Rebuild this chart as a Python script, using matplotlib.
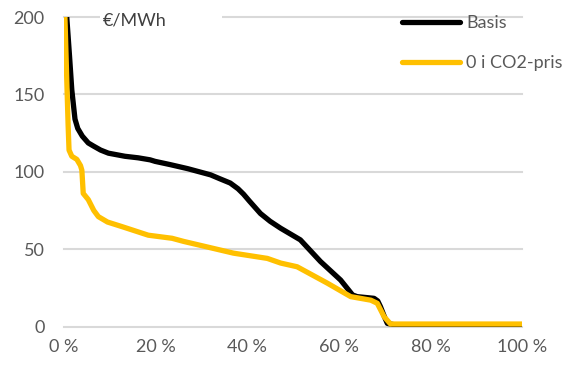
import matplotlib
matplotlib.use("Agg")
import matplotlib.pyplot as plt
from matplotlib.patches import Rectangle
from matplotlib.ticker import FuncFormatter

# ── Data (duration curves, share of hours in %, price in €/MWh) ───────────────
basis_x = [0, 0.6, 1.2, 1.7, 2.4, 3.0, 4.0, 5.3, 6.5, 8.0, 9.7, 13.3, 16.2, 18.8,
           19.9, 23.2, 27.0, 32.0, 34.0, 36.3, 38.0, 39.2, 40.5, 42.9, 45.0,
           47.3, 51.6, 56.0, 60.4, 63.0, 64.0, 67.7, 68.5, 69.1, 70.0, 70.6,
           72.0, 100]
basis_y = [230, 200, 175, 153, 134, 128, 123, 118.6, 116.5, 114, 112, 110, 109, 107.7,
           106.7, 104.6, 102, 98, 95.5, 92.7, 89, 85.5, 81, 73, 68,
           63.5, 56, 42, 30, 20.4, 19.3, 18.2, 16.5, 12.8, 6, 2, 1.2, 1.2]

co2_x = [0, 0.2, 0.6, 0.9, 1.1, 1.7, 2.8, 3.6, 3.9, 4.2, 5.3, 6.5, 7.5, 9.5,
         12.6, 18.4, 23.6, 26.1, 37.0, 44.4, 47.3, 50.9, 57.5, 62.6, 67.0,
         68.4, 69.9, 71.3, 100]
co2_y = [230, 200, 160, 130, 114, 110, 108, 104, 101, 86, 82, 75, 71, 67.5,
         64.6, 59, 57, 55, 47.4, 44, 41, 38.6, 28, 19.3, 17,
         15, 6.3, 1.6, 1.6]

series_names = ["Basis", "0 i CO2-pris"]
y_ticks = [0, 50, 100, 150, 200]
x_ticks = [0, 20, 40, 60, 80, 100]

# ── Style ─────────────────────────────────────────────────────────────────────
TICK_CLR = "#595959"
GRID_CLR = "#d9d9d9"
plt.rcParams["font.family"] = ["Lato", "DejaVu Sans"]

fig = plt.figure(figsize=(5.63, 3.65), dpi=100)
ax = fig.add_axes([64 / 563, 38.5 / 365, 458 / 563, 309.5 / 365])

for v in y_ticks:
    ax.axhline(v, color=GRID_CLR, linewidth=1.5, zorder=0.5, clip_on=False)

ax.plot(basis_x, basis_y, color="#000000", linewidth=3.8, label=series_names[0],
        solid_joinstyle="round", solid_capstyle="round", zorder=2)
ax.plot(co2_x, co2_y, color="#FFC000", linewidth=3.8, label=series_names[1],
        solid_joinstyle="round", solid_capstyle="round", zorder=3)

ax.set_xlim(0, 100)
ax.set_ylim(0, 200)
ax.set_xticks(x_ticks)
ax.set_yticks(y_ticks)
ax.xaxis.set_major_formatter(FuncFormatter(lambda v, _: f"{v:.0f} %"))
ax.tick_params(axis="both", length=0, colors=TICK_CLR, labelsize=13)
ax.tick_params(axis="y", pad=14)
ax.tick_params(axis="x", pad=9)
for s in ax.spines.values():
    s.set_visible(False)

# unit label box interrupts the top gridline
ax.add_patch(Rectangle(((100 - 64) / 458, 0.985), (222 - 100) / 458, 0.03,
                       transform=ax.transAxes, facecolor="white",
                       edgecolor="none", zorder=1, clip_on=False))
fig.text(103 / 563, 1 - 20 / 365, "€/MWh", color="#404040", fontsize=13,
         va="center", ha="left")

ax.legend(loc="upper left", bbox_to_anchor=(402 / 563, 1 - 15 / 365),
          bbox_transform=fig.transFigure, frameon=False, fontsize=13,
          labelcolor=TICK_CLR, handlelength=3.2, handletextpad=0.35,
          labelspacing=1.35, borderpad=0, borderaxespad=0)

fig.savefig("out.png", dpi=100)
